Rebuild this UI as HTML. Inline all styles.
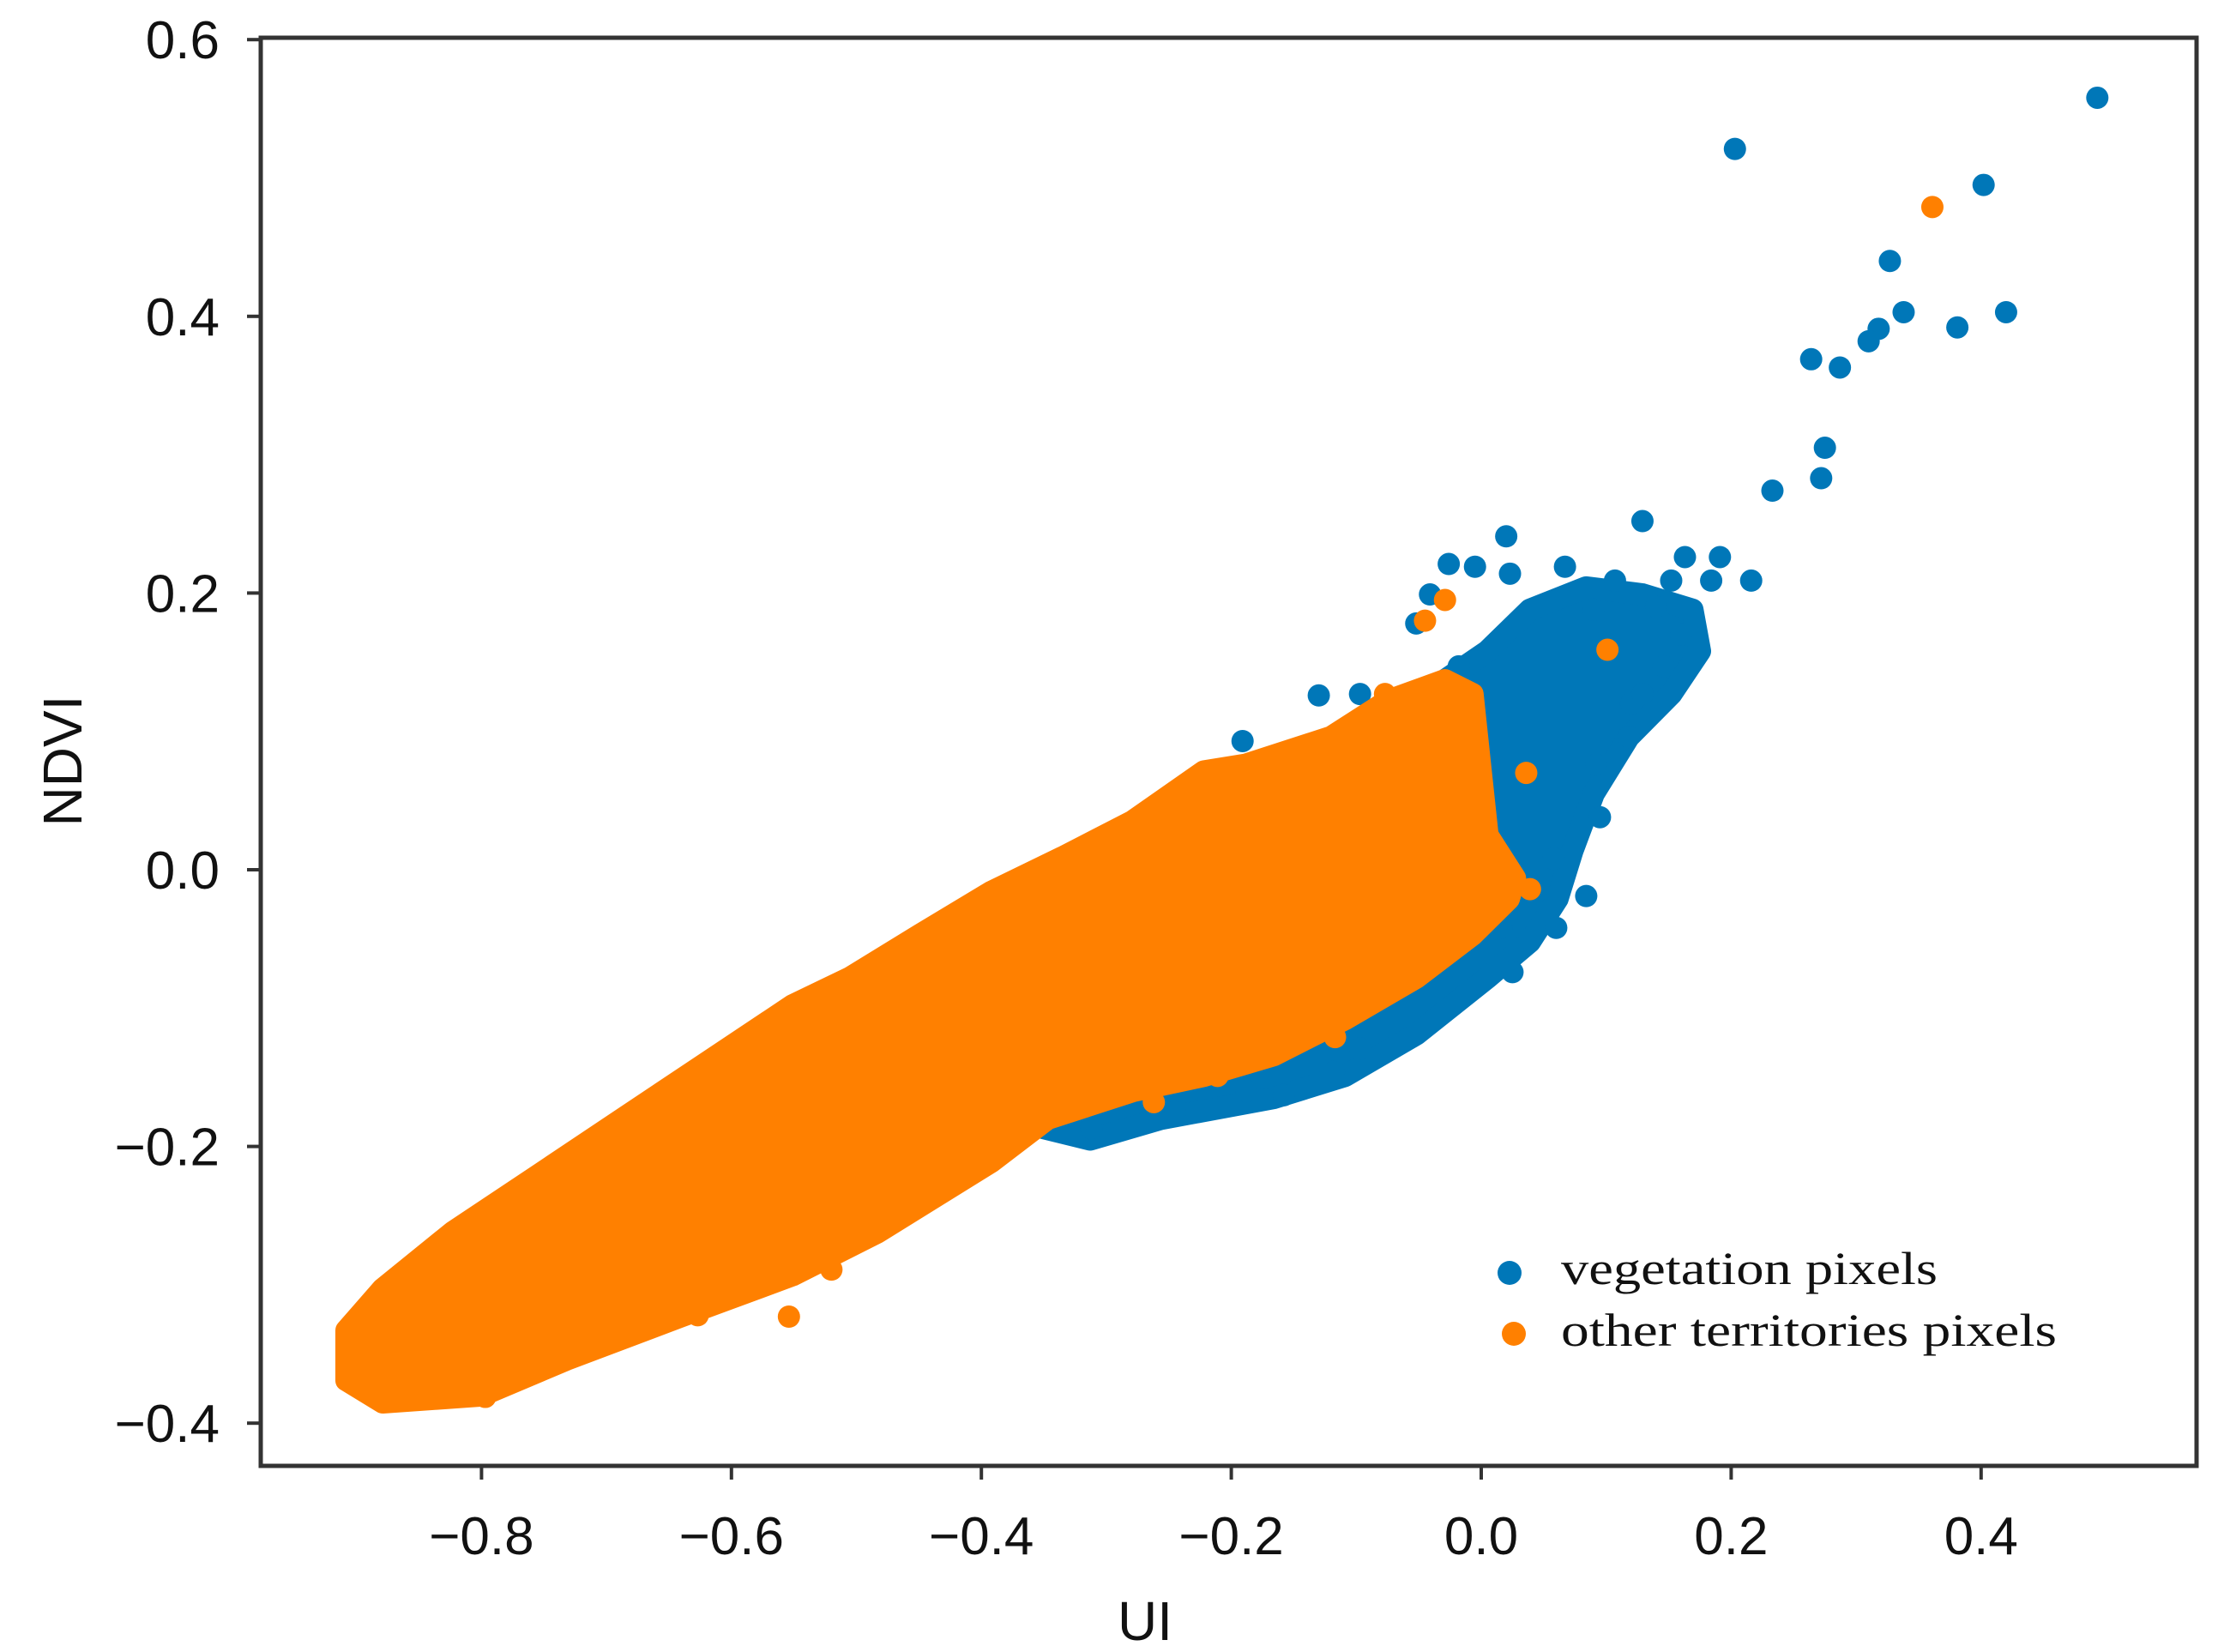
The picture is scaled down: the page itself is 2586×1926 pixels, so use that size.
<!DOCTYPE html>
<html><head><meta charset="utf-8"><style>
html,body{margin:0;padding:0;background:#fff;}
svg{display:block;}
text{font-family:"Liberation Sans",sans-serif;fill:#111;}
</style></head><body>
<svg id="chart" width="2586" height="1926" viewBox="0 0 2586 1926">
<g id="blueLayer"></g>
<g id="orangeLayer"></g>
<rect x="304" y="44" width="2257" height="1665" fill="none" stroke="#333" stroke-width="5"/>
<g id="axes"></g>
<text x="1335" y="1912" font-size="64" text-anchor="middle">UI</text>
<text x="0" y="0" font-size="64" text-anchor="middle" transform="translate(95,887) rotate(-90)">NDVI</text>
<g>
<circle cx="1760" cy="1484" r="14" fill="#0077b8"/>
<text x="1820" y="1497" font-size="54" style="font-family:'Liberation Serif',serif" textLength="439" lengthAdjust="spacingAndGlyphs">vegetation pixels</text>
<circle cx="1765" cy="1555" r="14" fill="#ff8000"/>
<text x="1820" y="1569" font-size="54" style="font-family:'Liberation Serif',serif" textLength="578" lengthAdjust="spacingAndGlyphs">other territories pixels</text>
</g>
</svg>
<script>
const xTicks=[-0.8,-0.6,-0.4,-0.2,0.0,0.2,0.4];
const yTicks=[-0.4,-0.2,0.0,0.2,0.4,0.6];
const xTickLabels=["\u22120.8","\u22120.6","\u22120.4","\u22120.2","0.0","0.2","0.4"];
const yTickLabels=["\u22120.4","\u22120.2","0.0","0.2","0.4","0.6"];
// dense cloud envelopes (UI, NDVI)
const orangeCloudX=[-0.908,-0.879,-0.800,-0.732,-0.641,-0.551,-0.483,-0.392,-0.347,-0.279,-0.222,-0.166,-0.109,-0.052,-0.007,0.022,0.027,0.005,-0.001,-0.007,-0.029,-0.075,-0.120,-0.188,-0.222,-0.279,-0.335,-0.392,-0.449,-0.505,-0.551,-0.619,-0.687,-0.755,-0.823,-0.879,-0.908];
const orangeCloudY=[-0.369,-0.385,-0.380,-0.354,-0.323,-0.293,-0.262,-0.211,-0.180,-0.160,-0.149,-0.134,-0.108,-0.078,-0.047,-0.021,-0.006,0.025,0.076,0.127,0.137,0.122,0.096,0.076,0.071,0.035,0.009,-0.016,-0.047,-0.078,-0.098,-0.139,-0.180,-0.221,-0.262,-0.303,-0.333];
const blueCloudX=[-0.358,-0.313,-0.256,-0.166,-0.109,-0.052,0.005,0.039,0.061,0.073,0.090,0.118,0.152,0.175,0.169,0.129,0.084,0.039,0.005,-0.029,-0.166,-0.392];
const blueCloudY=[-0.185,-0.195,-0.180,-0.165,-0.149,-0.119,-0.078,-0.052,-0.021,0.014,0.055,0.096,0.127,0.158,0.188,0.199,0.204,0.188,0.158,0.137,0.014,-0.060];
// individual points
const blueX=[0.493,0.203,0.402,0.327,0.338,0.420,0.381,0.318,0.310,0.264,0.287,0.275,0.272,0.233,0.129,0.020,-0.026,0.067,0.163,0.191,0.184,0.216,-0.005,0.023,0.107,-0.130,-0.097,-0.191,-0.154,0.095,0.084,0.058,0.060,0.025,-0.312,-0.158,-0.118,-0.041,0.14,0.16,0.12,0.090,0.152,0.146,0.129,0.092,-0.052,-0.018,-0.097,-0.188,-0.245,0.016,0.118];
const blueY=[0.558,0.521,0.495,0.440,0.403,0.403,0.392,0.391,0.382,0.369,0.363,0.305,0.283,0.274,0.252,0.241,0.221,0.219,0.226,0.226,0.209,0.209,0.219,0.214,0.209,0.126,0.127,0.093,0.084,0.038,-0.019,0.008,-0.042,-0.074,-0.187,-0.163,-0.146,0.199,0.190,0.170,0.120,0.188,0.209,0.147,0.127,0.076,0.178,0.147,-0.129,-0.160,-0.175,-0.042,0.096];
const orangeX=[0.361,-0.029,-0.045,0.101,-0.077,0.036,0.039,-0.117,-0.211,-0.262,-0.508,-0.520,-0.554,-0.627,-0.797,-0.334,-0.188];
const orangeY=[0.479,0.195,0.180,0.159,0.127,0.070,-0.014,-0.121,-0.149,-0.168,-0.269,-0.289,-0.323,-0.322,-0.381,0.008,0.071];

const X0=304,X1=2561,Y0=44,Y1=1709;
function sx(v){return 1727+v*1457;}
function sy(v){return 1014-v*1613;}
const NS="http://www.w3.org/2000/svg";
function mk(tag,attrs,parent){const e=document.createElementNS(NS,tag);for(const k in attrs)e.setAttribute(k,attrs[k]);parent.appendChild(e);return e;}
const R=13;
function cloud(xs,ys,color,layer,name){
  const pts=xs.map((x,i)=>sx(x).toFixed(1)+","+sy(ys[i]).toFixed(1)).join(" ");
  const p=mk("polygon",{points:pts,fill:color,stroke:color,"stroke-width":2*R,"stroke-linejoin":"round"},layer);
  
  
}
function dots(xs,ys,color,layer,name){
  xs.forEach((x,i)=>{
    const c=mk("circle",{cx:sx(x),cy:sy(ys[i]),r:R,fill:color},layer);
    
    
  });
}
const bl=document.getElementById("blueLayer"),ol=document.getElementById("orangeLayer");
cloud(blueCloudX,blueCloudY,"#0077b8",bl,"vegetation-cloud");
dots(blueX,blueY,"#0077b8",bl,"vegetation-point");
cloud(orangeCloudX,orangeCloudY,"#ff8000",ol,"other-territories-cloud");
dots(orangeX,orangeY,"#ff8000",ol,"other-territories-point");
const ax=document.getElementById("axes");
xTicks.forEach((v,i)=>{
  const t=mk("line",{x1:sx(v),x2:sx(v),y1:Y1,y2:Y1+16,stroke:"#333","stroke-width":4},ax);
  
  
  const l=mk("text",{x:sx(v),y:1812,"font-size":62,"text-anchor":"middle"},ax);
  l.textContent=xTickLabels[i];
  
  
});
yTicks.forEach((v,i)=>{
  const t=mk("line",{x1:X0-16,x2:X0,y1:sy(v),y2:sy(v),stroke:"#333","stroke-width":4},ax);
  
  
  const l=mk("text",{x:256,y:sy(v)+22,"font-size":62,"text-anchor":"end"},ax);
  l.textContent=yTickLabels[i];
  
  
});
</script>
</body></html>
